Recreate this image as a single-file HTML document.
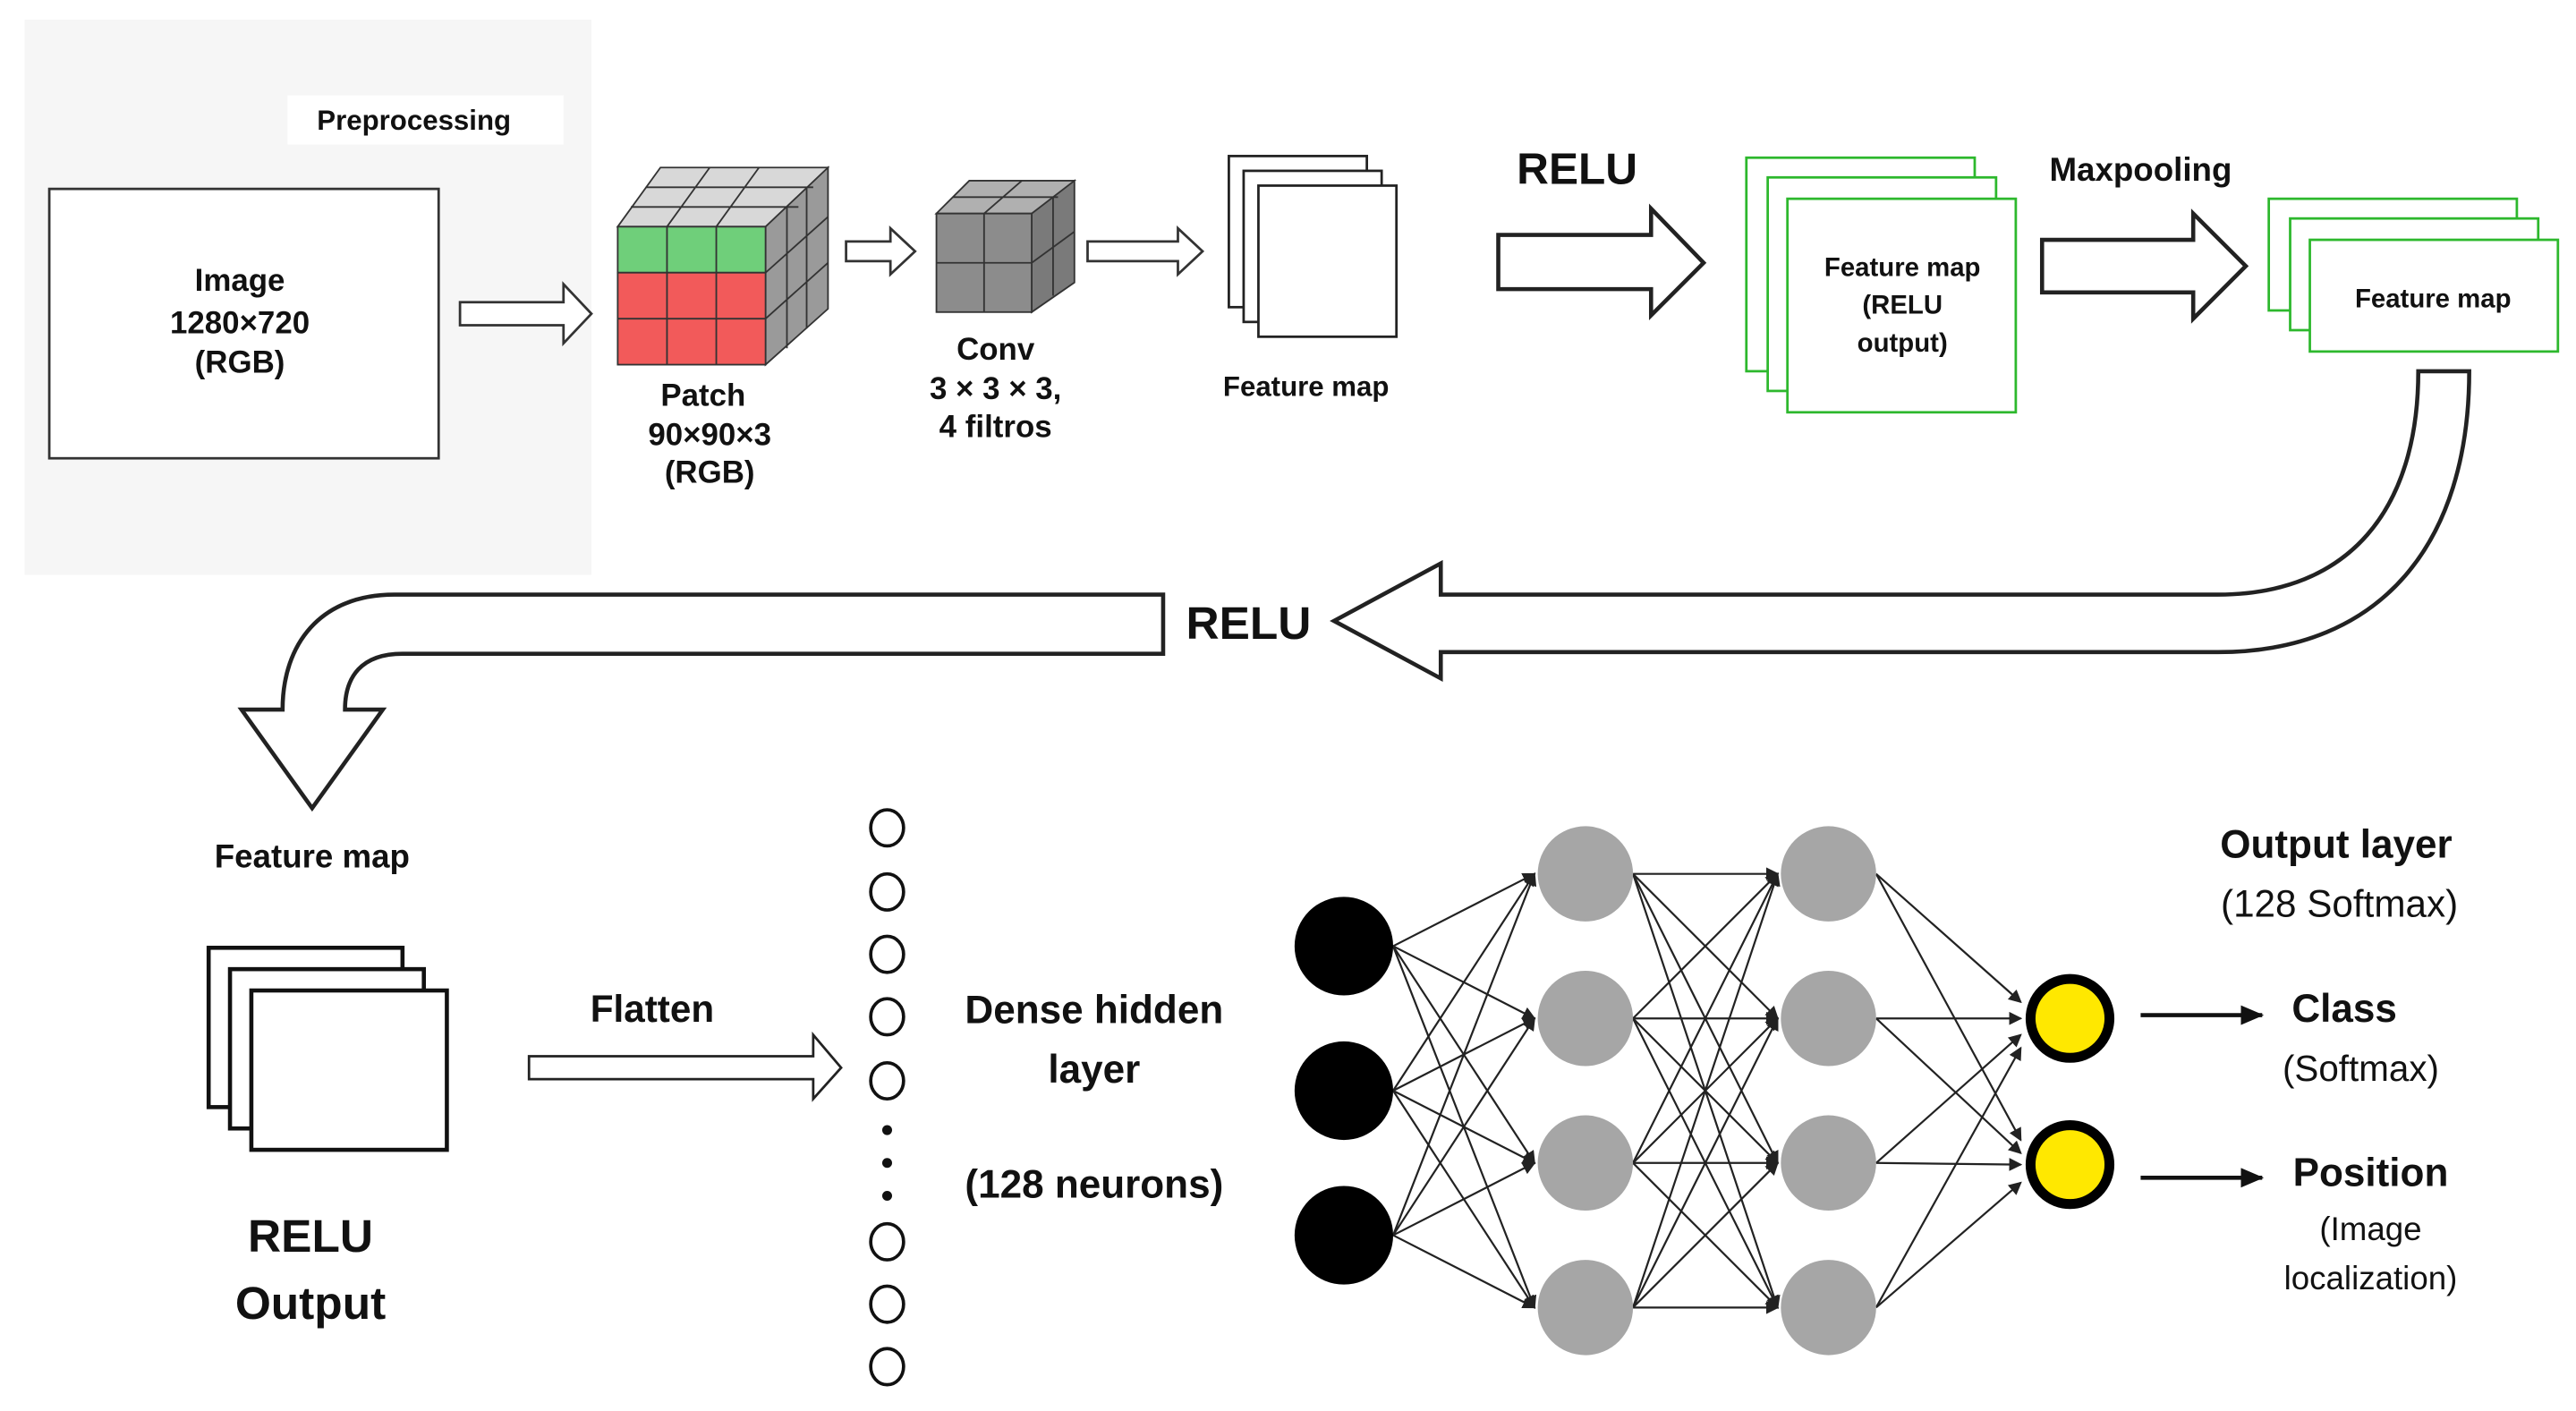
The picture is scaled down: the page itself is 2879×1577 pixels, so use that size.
<!DOCTYPE html>
<html><head><meta charset="utf-8"><style>
html,body{margin:0;padding:0;background:#fff;}
svg{display:block;}
text{font-family:"Liberation Sans",sans-serif;font-weight:bold;fill:#111;text-anchor:middle;}
</style></head><body>
<svg width="2879" height="1577" viewBox="0 0 1568 859" preserveAspectRatio="none" xmlns="http://www.w3.org/2000/svg">
<defs>
<marker id="ah" markerWidth="8" markerHeight="8" refX="7" refY="4" orient="auto" markerUnits="userSpaceOnUse"><path d="M0,0 L8,4 L0,8 Z" fill="#222"/></marker>
<marker id="ah2" markerWidth="14" markerHeight="12" refX="13" refY="6" orient="auto" markerUnits="userSpaceOnUse"><path d="M0,0 L14,6 L0,12 Z" fill="#111"/></marker>
</defs>
<rect x="0" y="0" width="1568" height="859" fill="#fff"/>
<rect x="15" y="12" width="345" height="338" fill="#f6f6f6"/>
<rect x="175" y="58" width="168" height="30" fill="#fff"/>
<text x="252" y="79" font-size="17">Preprocessing</text>
<rect x="30" y="115" width="237" height="164" fill="#fff" stroke="#333" stroke-width="1.5"/>
<text x="146" y="177" font-size="19">Image</text>
<text x="146" y="203" font-size="19">1280×720</text>
<text x="146" y="227" font-size="19">(RGB)</text>
<!-- hollow arrow 1 -->
<path d="M280,184 L343,184 L343,173 L360,191 L343,209 L343,198 L280,198 Z" fill="#fff" stroke="#333" stroke-width="1.5"/>
<!-- patch cube -->
<path d="M376,138 L402,102 L504,102 L478,138 Z" fill="#d8d8d8" stroke="#333"/>
<path d="M466,138 L504,102 L504,188 L466,222 Z" fill="#9a9a9a" stroke="#333"/>
<path d="M406,138 L432,102 M436,138 L462,102 M384,126 L486,126 M393,114 L495,114" stroke="#333" fill="none"/>
<path d="M479,126 L479,212 M491,114 L491,200 M466,166 L504,132 M466,194 L504,160" stroke="#333" fill="none"/>
<rect x="376" y="138" width="90" height="28" fill="#6fcf7a" stroke="#333"/>
<rect x="376" y="166" width="90" height="56" fill="#f25a5a" stroke="#333"/>
<path d="M406,138 L406,222 M436,138 L436,222 M376,194 L466,194" stroke="#333"/>
<text x="428" y="247" font-size="19">Patch</text>
<text x="432" y="271" font-size="19">90×90×3</text>
<text x="432" y="294" font-size="19">(RGB)</text>
<path d="M515,147 L542,147 L542,139 L557,153 L542,167 L542,159 L515,159 Z" fill="#fff" stroke="#333" stroke-width="1.5"/>
<!-- conv cube -->
<path d="M570,130 L590,110 L654,110 L634,130 Z" fill="#b0b0b0" stroke="#333"/>
<path d="M628,130 L654,110 L654,172 L628,190 Z" fill="#7a7a7a" stroke="#333"/>
<rect x="570" y="130" width="58" height="60" fill="#8c8c8c" stroke="#333"/>
<path d="M599,130 L599,190 M570,160 L628,160 M599,130 L622,110 M580,120 L644,120 M641,120 L641,180 M628,160 L654,141" stroke="#333" fill="none"/>
<text x="606" y="219" font-size="19">Conv</text>
<text x="606" y="243" font-size="19">3 × 3 × 3,</text>
<text x="606" y="266" font-size="19">4 filtros</text>
<path d="M662,147 L717,147 L717,139 L732,153 L717,167 L717,159 L662,159 Z" fill="#fff" stroke="#333" stroke-width="1.5"/>
<!-- feature map stack -->
<rect x="748" y="95" width="84" height="92" fill="#fff" stroke="#222" stroke-width="1.5"/>
<rect x="757" y="104" width="84" height="92" fill="#fff" stroke="#222" stroke-width="1.5"/>
<rect x="766" y="113" width="84" height="92" fill="#fff" stroke="#222" stroke-width="1.5"/>
<text x="795" y="241" font-size="17">Feature map</text>
<text x="960" y="112" font-size="27">RELU</text>
<path d="M912,143 L1005,143 L1005,127 L1037,160 L1005,192 L1005,176 L912,176 Z" fill="#fff" stroke="#222" stroke-width="2.5"/>
<!-- green stack 1 -->
<rect x="1063" y="96" width="139" height="130" fill="#fff" stroke="#2db82d" stroke-width="1.5"/>
<rect x="1076" y="108" width="139" height="130" fill="#fff" stroke="#2db82d" stroke-width="1.5"/>
<rect x="1088" y="121" width="139" height="130" fill="#fff" stroke="#2db82d" stroke-width="1.5"/>
<text x="1158" y="168" font-size="16">Feature map</text>
<text x="1158" y="191" font-size="16">(RELU</text>
<text x="1158" y="214" font-size="16">output)</text>
<text x="1303" y="110" font-size="20">Maxpooling</text>
<path d="M1243,146 L1335,146 L1335,130 L1367,162 L1335,194 L1335,178 L1243,178 Z" fill="#fff" stroke="#222" stroke-width="2.5"/>
<!-- green stack 2 -->
<rect x="1381" y="121" width="151" height="68" fill="#fff" stroke="#2db82d" stroke-width="1.5"/>
<rect x="1394" y="133" width="151" height="68" fill="#fff" stroke="#2db82d" stroke-width="1.5"/>
<rect x="1406" y="146" width="151" height="68" fill="#fff" stroke="#2db82d" stroke-width="1.5"/>
<text x="1481" y="187" font-size="16">Feature map</text>
<!-- big curved arrows -->
<path d="M1472,226 L1503,226 C1503,330 1450,397 1350,397 L877,397 L877,413 L812,378 L877,343 L877,362 L1350,362 C1430,362 1472,310 1472,226 Z" fill="#fff" stroke="#222" stroke-width="2.5"/>
<text x="760" y="389" font-size="28">RELU</text>
<path d="M708,362 L240,362 C195,362 172,392 172,432 L147,432 L190,492 L233,432 L210,432 C210,412 220,398 245,398 L708,398 Z" fill="#fff" stroke="#222" stroke-width="2.5"/>
<text x="190" y="528" font-size="20">Feature map</text>
<rect x="127" y="577" width="118" height="97" fill="#fff" stroke="#111" stroke-width="2.5"/>
<rect x="140" y="590" width="118" height="97" fill="#fff" stroke="#111" stroke-width="2.5"/>
<rect x="153" y="603" width="119" height="97" fill="#fff" stroke="#111" stroke-width="2.5"/>
<text x="189" y="762" font-size="28">RELU</text>
<text x="189" y="803" font-size="28">Output</text>
<text x="397" y="622" font-size="23">Flatten</text>
<path d="M322,643 L495,643 L495,630 L512,650 L495,669 L495,657 L322,657 Z" fill="#fff" stroke="#222" stroke-width="1.5"/>
<!-- neuron column -->
<g fill="#fff" stroke="#111" stroke-width="2">
<ellipse cx="540" cy="504" rx="10" ry="11"/><ellipse cx="540" cy="543" rx="10" ry="11"/>
<ellipse cx="540" cy="581" rx="10" ry="11"/><ellipse cx="540" cy="619" rx="10" ry="11"/>
<ellipse cx="540" cy="658" rx="10" ry="11"/><ellipse cx="540" cy="756" rx="10" ry="11"/>
<ellipse cx="540" cy="794" rx="10" ry="11"/><ellipse cx="540" cy="832" rx="10" ry="11"/>
</g>
<circle cx="540" cy="688" r="3" fill="#111"/><circle cx="540" cy="708" r="3" fill="#111"/><circle cx="540" cy="728" r="3" fill="#111"/>
<text x="666" y="623" font-size="24">Dense hidden</text>
<text x="666" y="659" font-size="24">layer</text>
<text x="666" y="729" font-size="24">(128 neurons)</text>
<!-- connections -->
<g stroke="#222" stroke-width="1.2" marker-end="url(#ah)">
<line x1="848" y1="576" x2="934" y2="532"/><line x1="848" y1="576" x2="934" y2="620"/><line x1="848" y1="576" x2="934" y2="708"/><line x1="848" y1="576" x2="934" y2="796"/>
<line x1="848" y1="664" x2="934" y2="532"/><line x1="848" y1="664" x2="934" y2="620"/><line x1="848" y1="664" x2="934" y2="708"/><line x1="848" y1="664" x2="934" y2="796"/>
<line x1="848" y1="752" x2="934" y2="532"/><line x1="848" y1="752" x2="934" y2="620"/><line x1="848" y1="752" x2="934" y2="708"/><line x1="848" y1="752" x2="934" y2="796"/>
<line x1="994" y1="532" x2="1082" y2="532"/><line x1="994" y1="532" x2="1082" y2="620"/><line x1="994" y1="532" x2="1082" y2="708"/><line x1="994" y1="532" x2="1082" y2="796"/>
<line x1="994" y1="620" x2="1082" y2="532"/><line x1="994" y1="620" x2="1082" y2="620"/><line x1="994" y1="620" x2="1082" y2="708"/><line x1="994" y1="620" x2="1082" y2="796"/>
<line x1="994" y1="708" x2="1082" y2="532"/><line x1="994" y1="708" x2="1082" y2="620"/><line x1="994" y1="708" x2="1082" y2="708"/><line x1="994" y1="708" x2="1082" y2="796"/>
<line x1="994" y1="796" x2="1082" y2="532"/><line x1="994" y1="796" x2="1082" y2="620"/><line x1="994" y1="796" x2="1082" y2="708"/><line x1="994" y1="796" x2="1082" y2="796"/>
<line x1="1142" y1="532" x2="1230" y2="610"/><line x1="1142" y1="620" x2="1230" y2="620"/><line x1="1142" y1="708" x2="1230" y2="630"/><line x1="1142" y1="796" x2="1230" y2="638"/>
<line x1="1142" y1="532" x2="1230" y2="694"/><line x1="1142" y1="620" x2="1230" y2="702"/><line x1="1142" y1="708" x2="1230" y2="709"/><line x1="1142" y1="796" x2="1230" y2="720"/>
</g>
<g fill="#000"><circle cx="818" cy="576" r="30"/><circle cx="818" cy="664" r="30"/><circle cx="818" cy="752" r="30"/></g>
<g fill="#a6a6a6">
<circle cx="965" cy="532" r="29"/><circle cx="965" cy="620" r="29"/><circle cx="965" cy="708" r="29"/><circle cx="965" cy="796" r="29"/>
<circle cx="1113" cy="532" r="29"/><circle cx="1113" cy="620" r="29"/><circle cx="1113" cy="708" r="29"/><circle cx="1113" cy="796" r="29"/>
</g>
<circle cx="1260" cy="620" r="24" fill="#ffe800" stroke="#000" stroke-width="6"/>
<circle cx="1260" cy="709" r="24" fill="#ffe800" stroke="#000" stroke-width="6"/>
<g stroke="#111" stroke-width="2.5" marker-end="url(#ah2)">
<line x1="1303" y1="618" x2="1377" y2="618"/><line x1="1303" y1="717" x2="1377" y2="717"/>
</g>
<text x="1422" y="522" font-size="24">Output layer</text>
<text x="1424" y="558" font-size="23" font-weight="normal" style="font-weight:normal">(128 Softmax)</text>
<text x="1427" y="622" font-size="24">Class</text>
<text x="1437" y="658" font-size="22" style="font-weight:normal">(Softmax)</text>
<text x="1443" y="722" font-size="24">Position</text>
<text x="1443" y="755" font-size="20" style="font-weight:normal">(Image</text>
<text x="1443" y="785" font-size="20" style="font-weight:normal">localization)</text>
</svg>
</body></html>
